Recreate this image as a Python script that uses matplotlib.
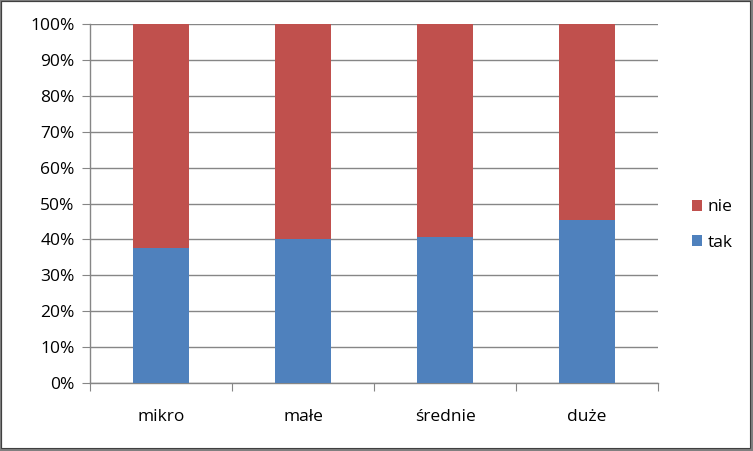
import matplotlib.pyplot as plt
from matplotlib.patches import Rectangle
from matplotlib.ticker import FuncFormatter, FixedLocator

categories = ["mikro", "małe", "średnie", "duże"]
tak = [37.7, 40.1, 40.7, 45.5]
nie = [100 - v for v in tak]

blue = "#4F81BD"
red = "#C0504D"
grid_col = "#868686"

plt.rcParams["font.family"] = ["Open Sans", "DejaVu Sans"]

fig = plt.figure(figsize=(7.53, 4.51), dpi=100)
ax = fig.add_axes([90 / 753, 68 / 451, 568 / 753, 359 / 451])

x = list(range(len(categories)))
ax.bar(x, tak, width=0.39, color=blue, label="tak", zorder=3)
ax.bar(x, nie, width=0.39, bottom=tak, color=red, label="nie", zorder=3)

ax.set_xlim(-0.5, len(categories) - 0.5)
ax.set_ylim(0, 100)
ax.set_yticks(range(0, 101, 10))
ax.yaxis.set_major_formatter(FuncFormatter(lambda v, p: f"{int(v)}%"))
ax.yaxis.grid(True, color=grid_col, linewidth=1, zorder=0)

ax.xaxis.set_major_locator(FixedLocator([i - 0.5 for i in range(len(categories) + 1)]))
ax.xaxis.set_minor_locator(FixedLocator(x))
ax.set_xticklabels([], minor=False)
ax.set_xticklabels(categories, minor=True)
ax.tick_params(axis="x", which="major", length=6, color=grid_col, direction="out")
ax.tick_params(axis="x", which="minor", length=0, pad=19, labelsize=12.5)
ax.tick_params(axis="y", length=6, color=grid_col, direction="out", labelsize=12.5, pad=5)

for s in ["top", "right"]:
    ax.spines[s].set_visible(False)
for s in ["left", "bottom"]:
    ax.spines[s].set_color(grid_col)
    ax.spines[s].set_linewidth(1)

handles, labels = ax.get_legend_handles_labels()
leg = fig.legend(handles[::-1], labels[::-1], loc="center left",
                 bbox_to_anchor=(676 / 753, 1 - 225 / 451), frameon=False,
                 handlelength=0.6, handleheight=0.6, handletextpad=0.3,
                 labelspacing=1.1, fontsize=12.5)

# frame with shadow around the whole chart
fig.patches.append(Rectangle((0, 0), 1, 1, transform=fig.transFigure,
                             fill=False, edgecolor="#808080", linewidth=3))
fig.patches.append(Rectangle((0.5 / 753, 3 / 451), 1 - 3.5 / 753, 1 - 3.5 / 451,
                             transform=fig.transFigure, fill=False,
                             edgecolor="#404040", linewidth=0.8))

fig.savefig("out.png", dpi=100)
